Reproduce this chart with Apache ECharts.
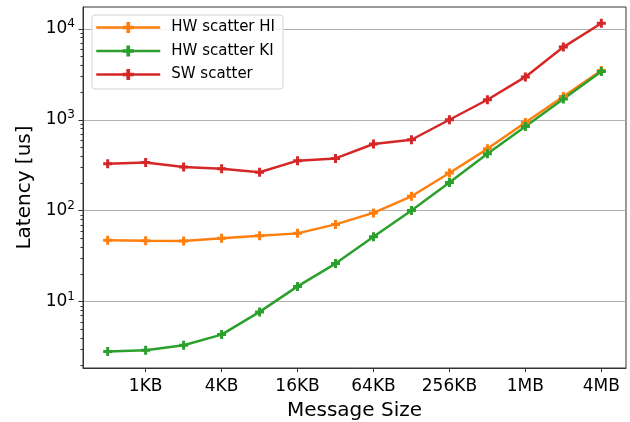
<!DOCTYPE html>
<html>
<head>
<meta charset="utf-8">
<script src="https://cdn.jsdelivr.net/npm/echarts@6/dist/echarts.min.js"></script>
<style>html,body{margin:0;padding:0;background:#fff;}#c{width:630px;height:422px;}</style>
</head>
<body>
<div id="c"></div>
<script>
const sizes = [512, 1024, 2048, 4096, 8192, 16384, 32768, 65536, 131072, 262144, 524288, 1048576, 2097152, 4194304];
const hwHI = [47.2, 46.7, 46.5, 49.8, 53.1, 56.3, 70.7, 94.5, 144, 260, 479, 935, 1800, 3480];
const hwKI = [2.82, 2.92, 3.31, 4.34, 7.71, 14.7, 26.2, 51.8, 100.7, 204, 423, 843, 1690, 3390];
const swScatter = [328, 339, 302, 289, 265, 355, 376, 541, 603, 1000, 1660, 2960, 6300, 11500];
const seriesNames = ['HW scatter HI', 'HW scatter KI', 'SW scatter'];
const seriesColors = ['#ff7f0e', '#2ca02c', '#d62728'];
const xTickValues = [1024, 4096, 16384, 65536, 262144, 1048576, 4194304];
const xTickLabels = ['1KB', '4KB', '16KB', '64KB', '256KB', '1MB', '4MB'];
const yTickValues = [10, 100, 1000, 10000];
const yTickExponents = ['1', '2', '3', '4'];
const yMinorTicks = [];
for (const d of [1, 10, 100, 1000]) for (let k = 2; k <= 9; k++) yMinorTicks.push(k * d);

const FONT = 'DejaVu Sans';
const plus = 'path://M3,0H6V3H9V6H6V9H3V6H0V3H3Z';
const allSeries = [hwHI, hwKI, swScatter];

const chart = echarts.init(document.getElementById('c'), null, {renderer: 'canvas'});
chart.setOption({
  animation: false,
  backgroundColor: '#fff',
  textStyle: {fontFamily: FONT},
  grid: {left: 83, right: 4, top: 7, bottom: 54, show: true, borderColor: '#333', borderWidth: 1,
         containLabel: false, outerBoundsMode: 'none'},
  legend: {
    left: 92, top: 15, orient: 'vertical',
    data: seriesNames,
    itemWidth: 64, itemHeight: 14, itemGap: 8.5,
    padding: [5, 8, 7, 3],
    backgroundColor: 'rgba(255,255,255,0.85)',
    borderColor: '#d5d5d5', borderWidth: 1, borderRadius: 3,
    lineStyle: {width: 2.5},
    textStyle: {fontFamily: FONT, fontSize: 15, color: '#000', padding: [0, 0, 0, 6]}
  },
  xAxis: {
    type: 'log', logBase: 2,
    min: Math.pow(2, 8.35), max: Math.pow(2, 22.65),
    name: 'Message Size', nameLocation: 'middle', nameGap: 33,
    nameTextStyle: {fontFamily: FONT, fontSize: 20, color: '#000'},
    axisLine: {show: true, lineStyle: {color: '#333', width: 1}},
    axisTick: {show: true, length: 4, customValues: xTickValues, lineStyle: {color: '#333'}},
    axisLabel: {
      customValues: xTickValues, margin: 10,
      fontFamily: FONT, fontSize: 17, color: '#000',
      formatter: function (v) {
        let best = 0, bd = Infinity;
        xTickValues.forEach((t, i) => { const d = Math.abs(Math.log2(t) - Math.log2(v)); if (d < bd) { bd = d; best = i; } });
        return xTickLabels[best];
      }
    },
    splitLine: {show: false}, minorTick: {show: false}
  },
  yAxis: [{
    type: 'log', logBase: 10,
    min: Math.pow(10, 0.27), max: Math.pow(10, 4.24),
    name: 'Latency [us]', nameLocation: 'middle', nameGap: 47,
    nameTextStyle: {fontFamily: FONT, fontSize: 20, color: '#000'},
    axisLine: {show: true, lineStyle: {color: '#333', width: 1}},
    axisTick: {show: true, length: 4.5, customValues: yTickValues, lineStyle: {color: '#333'}},
    axisLabel: {
      customValues: yTickValues, margin: 8, color: '#000',
      formatter: function (v) {
        let best = 0, bd = Infinity;
        yTickValues.forEach((t, i) => { const d = Math.abs(Math.log10(t) - Math.log10(v)); if (d < bd) { bd = d; best = i; } });
        return '{b|10}{s|' + yTickExponents[best] + '}';
      },
      rich: {
        b: {fontFamily: FONT, fontSize: 17, color: '#000', lineHeight: 22},
        s: {fontFamily: FONT, fontSize: 12, color: '#000', verticalAlign: 'top', lineHeight: 12}
      }
    },
    splitLine: {show: true, lineStyle: {color: '#b0b0b0', width: 1}}
  }, {
    type: 'log', logBase: 10, position: 'left',
    min: Math.pow(10, 0.27), max: Math.pow(10, 4.24),
    axisLine: {show: false},
    axisTick: {show: true, length: 2.5, customValues: yMinorTicks, lineStyle: {color: '#333'}},
    axisLabel: {show: false},
    splitLine: {show: false}
  }],
  series: seriesNames.map((name, i) => ({
    name: name, type: 'line',
    data: sizes.map((s, j) => [s, allSeries[i][j]]),
    symbol: plus, symbolSize: 9, showSymbol: true,
    lineStyle: {width: 2.5, color: seriesColors[i]},
    itemStyle: {color: seriesColors[i]},
    color: seriesColors[i]
  }))
});
</script>
</body>
</html>
